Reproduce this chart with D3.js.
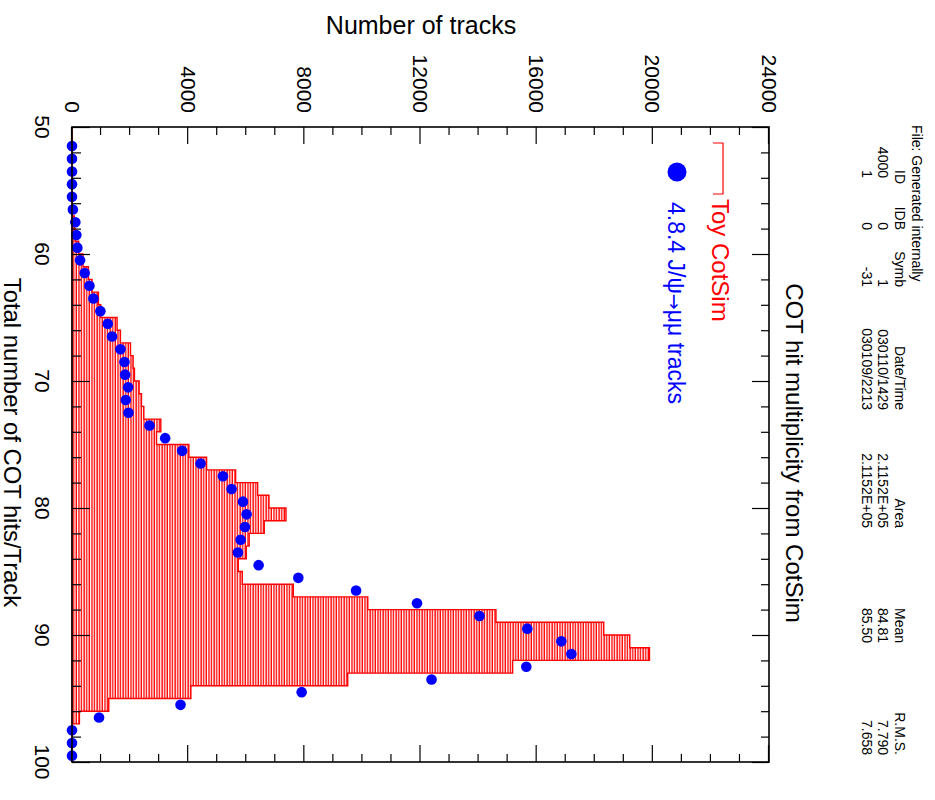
<!DOCTYPE html>
<meta charset="utf-8">
<script src="https://d3js.org/d3.v7.min.js"></script>
<style>
  body { margin: 0; background: #fff; }
  text { font-family: "Liberation Sans", Arial, Helvetica, sans-serif; }
</style>
<div id="chart"></div>
<script>
// low edge of each 1-hit bin
var hitBins = [50,51,52,53,54,55,56,57,58,59,60,61,62,63,64,65,66,67,68,69,
               70,71,72,73,74,75,76,77,78,79,80,81,82,83,84,85,86,87,88,89,
               90,91,92,93,94,95,96,97,98,99];
// Toy CotSim histogram (red, hatched)
var toyCotSim = [0,0,0,0,0,0,0,80,110,230,380,565,690,910,990,
                 1552,1667,2013,2104,2150,2311,2392,2473,3058,2910,
                 4024,4634,5634,6392,6782,7368,6620,6100,6000,5725,
                 5863,7621,10185,14598,18309,19205,19884,15172,9494,4093,
                 1266,255,0,0,0];
// 4.8.4 J/psi -> mu mu tracks (blue points), first bin not drawn
var jpsiTracks = [null,0,0,0,0,0,30,115,150,185,277,437,600,737,978,
                  1231,1380,1668,1806,1829,1932,1852,1944,2668,3208,
                  3792,4427,5197,5495,5886,6012,5955,5806,5713,6426,
                  7793,9782,11880,14030,15678,16850,17195,15643,12380,7908,
                  3737,931,0,0,0];
var hitTicks = [50,60,70,80,90,100];
var trackTicks = [0,4000,8000,12000,16000,20000,24000];

// stats box
var statHeaders = ["ID","IDB","Symb","Date/Time","Area","Mean","R.M.S."];
var statRow1 = ["4000","0","1","030110/1429","2.1152E+05","84.81","7.790"];
var statRow2 = ["1","0","-31","030109/2213","2.1152E+05","85.50","7.658"];

var svg = d3.select("#chart").append("svg")
    .attr("width", 935)
    .attr("height", 800);

// the whole PAW page is turned a quarter clockwise
var g = svg.append("g")
    .attr("transform", "translate(935,0) rotate(90)");

var x = d3.scaleLinear().domain([50, 100]).range([127, 762]);
var y = d3.scaleLinear().domain([0, 24000]).range([863, 166]);

// hatch pattern
svg.append("defs").append("pattern")
    .attr("id", "hatch")
    .attr("patternUnits", "userSpaceOnUse")
    .attr("width", 10)
    .attr("height", 2.6)
  .append("rect")
    .attr("x", 0).attr("y", 0)
    .attr("width", 10).attr("height", 1.35)
    .attr("fill", "#ff0000");

// histogram staircase
var stairs = [[50, 0]];
hitBins.forEach(function(h, i) {
  stairs.push([h, toyCotSim[i]]);
  stairs.push([h + 1, toyCotSim[i]]);
});
stairs.push([100, 0]);

var line = d3.line()
    .x(function(d) { return x(d[0]); })
    .y(function(d) { return y(d[1]); });

g.append("path")
    .attr("d", line(stairs) + "Z")
    .attr("fill", "url(#hatch)")
    .attr("stroke", "#ff0000")
    .attr("stroke-width", 1.4);

// points
g.selectAll(".pt")
  .data(hitBins.map(function(h, i) { return {h: h + 0.5, v: jpsiTracks[i]}; })
               .filter(function(d) { return d.v !== null; }))
  .enter().append("circle")
    .attr("class", "pt")
    .attr("cx", function(d) { return x(d.h); })
    .attr("cy", function(d) { return y(d.v); })
    .attr("r", 5.3)
    .attr("fill", "#0000ff");

// ticks inside the frame
function ticks(axis, tr, vals, size) {
  var a = g.append("g").attr("transform", tr)
      .call(axis.tickValues(vals).tickSize(-size).tickFormat(""));
  a.select(".domain").remove();
  a.selectAll("line").attr("stroke", "#000").attr("stroke-width", 1.2);
}
var hitMinor = [52,54,56,58,62,64,66,68,72,74,76,78,82,84,86,88,92,94,96,98];
var trackMinor = [1000,2000,3000,5000,6000,7000,9000,10000,11000,13000,14000,15000,
                  17000,18000,19000,21000,22000,23000];
ticks(d3.axisBottom(x), "translate(0,863)", hitTicks, 18);
ticks(d3.axisBottom(x), "translate(0,863)", hitMinor, 9);
ticks(d3.axisTop(x), "translate(0,166)", hitTicks, 17);
ticks(d3.axisTop(x), "translate(0,166)", hitMinor, 8);
ticks(d3.axisLeft(y), "translate(127,0)", trackTicks, 17);
ticks(d3.axisLeft(y), "translate(127,0)", trackMinor, 8);
ticks(d3.axisRight(y), "translate(762,0)", trackTicks, 17);
ticks(d3.axisRight(y), "translate(762,0)", trackMinor, 8);

// frame
g.append("rect")
    .attr("x", x(50)).attr("y", y(24000))
    .attr("width", x(100) - x(50)).attr("height", y(0) - y(24000))
    .attr("fill", "none").attr("stroke", "#000").attr("stroke-width", 1.6);

// tick labels
g.selectAll(".hl").data(hitTicks).enter().append("text")
    .attr("x", function(d) { return x(d); })
    .attr("y", 900)
    .attr("text-anchor", "middle")
    .style("font-size", "21px")
    .text(function(d) { return d; });

g.selectAll(".tl").data(trackTicks).enter().append("text")
    .attr("x", 113)
    .attr("y", function(d) { return y(d); })
    .attr("dy", "0.35em")
    .attr("text-anchor", "end")
    .style("font-size", "21px")
    .text(function(d) { return d; });

// axis titles
g.append("text")
    .attr("x", x(75) - 2).attr("y", 931)
    .attr("text-anchor", "middle")
    .style("font-size", "23.8px")
    .text("Total number of COT hits/Track");

g.append("text")
    .attr("transform", "translate(34,514) rotate(-90)")
    .attr("text-anchor", "middle")
    .style("font-size", "25px")
    .text("Number of tracks");

// title
g.append("text")
    .attr("x", 453).attr("y", 149)
    .attr("text-anchor", "middle")
    .style("font-size", "24px")
    .text("COT hit multiplicity from CotSim");

// stats box
g.append("text")
    .attr("x", 125).attr("y", 23)
    .style("font-size", "14px")
    .text("File: Generated internally");
var statEnds = [184, 230, 287, 410, 528, 643, 755];
var statValEnds = [178, 230, 287, 410, 528, 643, 755];
[[statHeaders, 40, statEnds], [statRow1, 57, statValEnds], [statRow2, 73.5, statValEnds]]
  .forEach(function(row) {
    g.selectAll(null).data(row[0]).enter().append("text")
        .attr("x", function(d, i) { return row[2][i]; })
        .attr("y", row[1])
        .attr("text-anchor", "end")
        .style("font-size", "14px")
        .text(function(d) { return d; });
  });

// legend
g.append("path")
    .attr("d", "M143,222L143,212L194,212L194,222")
    .attr("fill", "none")
    .attr("stroke", "#ff0000")
    .attr("stroke-width", 1.2);
g.append("text")
    .attr("x", 199).attr("y", 223)
    .attr("fill", "#ff0000")
    .style("font-size", "24px")
    .text("Toy CotSim");
g.append("circle")
    .attr("cx", 172).attr("cy", 258)
    .attr("r", 9.5)
    .attr("fill", "#0000ff");
var lt = g.append("text")
    .attr("x", 202).attr("y", 267)
    .attr("fill", "#0000ff")
    .style("font-size", "23px");
lt.append("tspan").text("4.8.4 J/\u03c8");
lt.append("tspan").style("font-family", "'DejaVu Sans'").style("font-size", "19px").text("\u2192");
lt.append("tspan").text("\u03bc\u03bc tracks");
</script>
